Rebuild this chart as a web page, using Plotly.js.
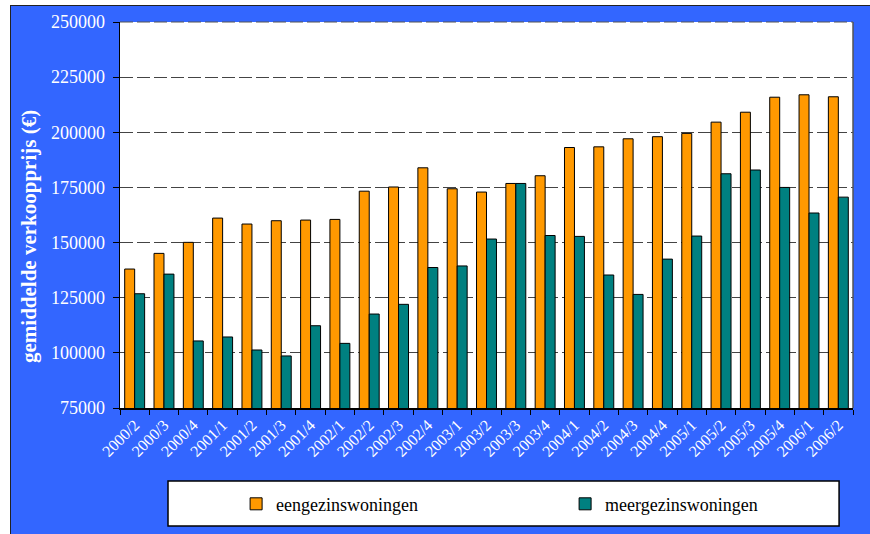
<!DOCTYPE html>
<html>
<head>
<meta charset="utf-8">
<script src="https://cdn.plot.ly/plotly-3.0.1.min.js"></script>
<style>
  html, body { margin: 0; padding: 0; width: 870px; height: 534px; background: #ffffff; overflow: hidden; }
  #frame { position: absolute; left: 10px; top: 5px; width: 860px; height: 529px; background: #3366FF; border-left: 1px solid #222; border-top: 1px solid #222; box-sizing: border-box; }
  #chart { position: absolute; left: 11px; top: 6px; width: 859px; height: 528px; }
</style>
</head>
<body>
<div id="frame"></div>
<div id="chart"></div>
<script>
const categories = ["2000/2","2000/3","2000/4","2001/1","2001/2","2001/3","2001/4","2002/1","2002/2","2002/3","2002/4","2003/1","2003/2","2003/3","2003/4","2004/1","2004/2","2004/3","2004/4","2005/1","2005/2","2005/3","2005/4","2006/1","2006/2"];
const eengezins = [138000,145100,150100,161100,158400,159900,160200,160500,173300,175200,183900,174400,172900,176800,180300,193100,193400,197050,198000,199500,204600,209100,215900,217000,216100];
const meergezins = [126800,135700,105400,107200,101300,98600,112300,104300,117600,122000,138700,139400,151600,176800,153200,152800,135300,126500,142500,152950,181200,182900,175000,163400,170600];
const yTicks = [75000,100000,125000,150000,175000,200000,225000,250000];
const seriesNames = ["eengezinswoningen","meergezinswoningen"];
const yTitle = "gemiddelde verkoopprijs (€)";

const serif = "Liberation Serif, Times New Roman, serif";

const traces = [
  { type: "bar", name: seriesNames[0], x: categories, y: eengezins,
    marker: { color: "#FF9900", line: { color: "#000000", width: 1 } } },
  { type: "bar", name: seriesNames[1], x: categories, y: meergezins,
    marker: { color: "#008080", line: { color: "#000000", width: 1 } } }
];

const layout = {
  width: 859, height: 528,
  margin: { l: 109, r: 17, t: 16, b: 126, pad: 0, autoexpand: false },
  paper_bgcolor: "rgba(0,0,0,0)",
  plot_bgcolor: "#ffffff",
  barmode: "group",
  bargap: 0.32,
  bargroupgap: 0,
  showlegend: true,
  font: { family: serif, color: "#ffffff", size: 18 },
  xaxis: {
    type: "category",
    tickangle: -45,
    tickfont: { family: serif, size: 16, color: "#ffffff" },
    ticks: "outside", ticklen: 5, tickcolor: "#000000", tickwidth: 1,
    tickson: "boundaries",
    showline: true, linecolor: "#000000", linewidth: 1.5,
    showgrid: false, zeroline: false, automargin: false
  },
  yaxis: {
    range: [75000, 250000],
    tickvals: yTicks,
    ticktext: yTicks.map(String),
    tickfont: { family: serif, size: 18, color: "#ffffff" },
    ticks: "outside", ticklen: 6, tickcolor: "#000000", tickwidth: 1,
    ticklabelstandoff: 4,
    showline: true, linecolor: "#000000", linewidth: 1.5,
    showgrid: true, gridcolor: "#444444", gridwidth: 1, griddash: "13px,4px",
    zeroline: false, automargin: false
  },
  annotations: [
    { text: "<b>" + yTitle + "</b>", xref: "paper", yref: "paper", x: -0.1245, y: 0.445,
      xanchor: "center", yanchor: "middle", textangle: -90, showarrow: false,
      font: { family: serif, size: 21, color: "#ffffff" } }
  ],
  legend: {
    orientation: "h",
    x: 0.1584, xanchor: "left",
    y: -0.249, yanchor: "middle",
    bgcolor: "rgba(0,0,0,0)",
    borderwidth: 0,
    entrywidth: 284, entrywidthmode: "pixels",
    font: { family: serif, size: 18, color: "#000000" },
    traceorder: "normal"
  },
  shapes: [
    { type: "rect", xref: "paper", yref: "paper", x0: 0.0655, x1: 0.981, y0: -0.3057, y1: -0.189,
      fillcolor: "#ffffff", line: { color: "#000000", width: 1.5 }, layer: "below" },
    { type: "line", xref: "paper", yref: "paper", x0: 1, x1: 1, y0: 0, y1: 1,
      line: { color: "#555555", width: 1.5 }, layer: "above" },
    { type: "line", xref: "paper", yref: "paper", x0: 0, x1: 1, y0: 1, y1: 1,
      line: { color: "#555555", width: 1, dash: "13px,4px" }, layer: "above" }
  ]
};

Plotly.newPlot("chart", traces, layout, { displayModeBar: false, staticPlot: true });
</script>
</body>
</html>
